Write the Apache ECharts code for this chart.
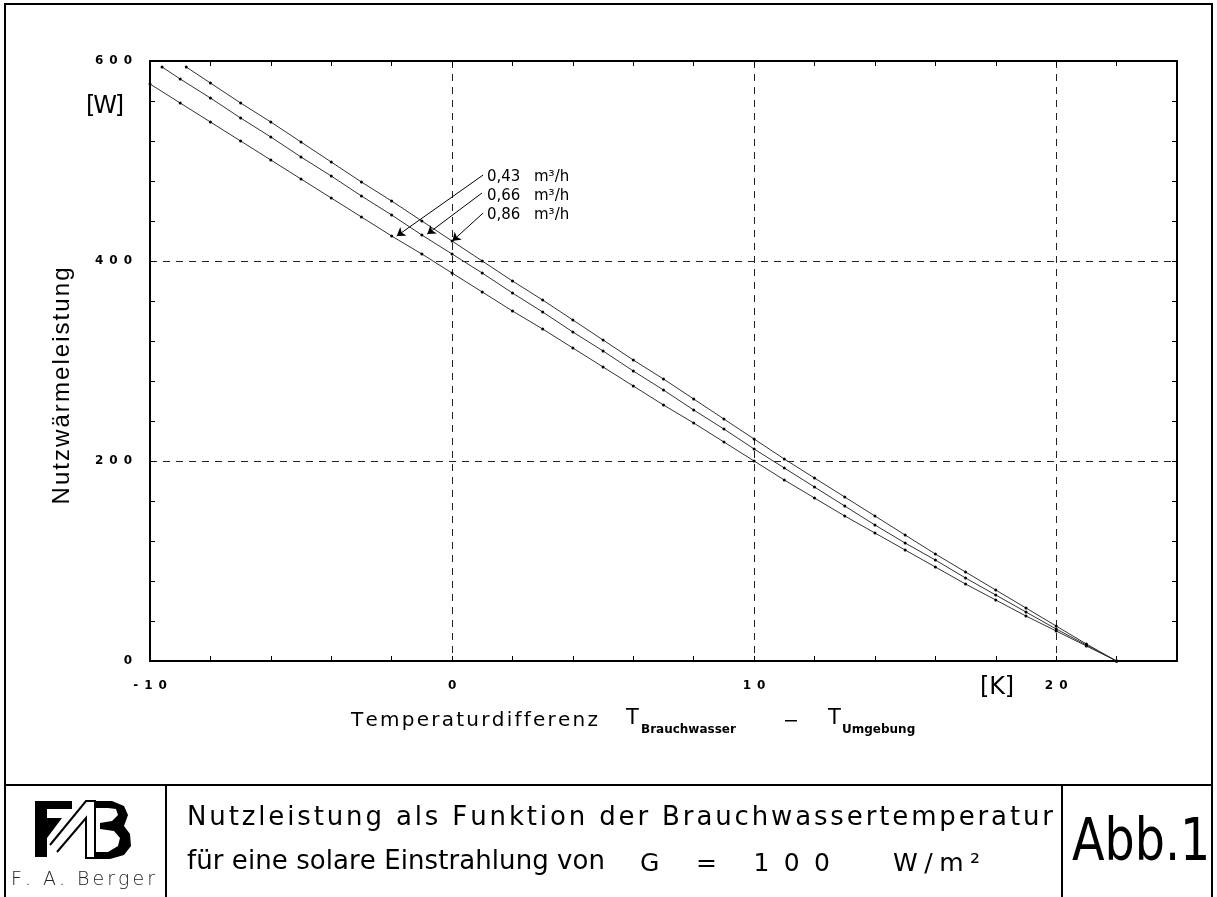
<!DOCTYPE html>
<html><head><meta charset="utf-8">
<script src="https://cdn.jsdelivr.net/npm/echarts@6/dist/echarts.min.js"></script>
<style>html,body{margin:0;padding:0;background:#fff}#c{width:1217px;height:897px}</style>
</head><body><div id="c"></div><script>
// Nutzwärmeleistung [W] vs Temperaturdifferenz [K]
const seriesNames = ['0,43 m³/h', '0,66 m³/h', '0,86 m³/h'];
const x043 = [-10,-9,-8,-7,-6,-5,-4,-3,-2,-1,0,1,2,3,4,5,6,7,8,9,10,11,12,13,14,15,16,17,18,19,20,21,22];
const w043 = [577,558,539,520,501,482,463,444,425,407,388,369,350,332,313,294,275,256,238,219,200,181,163,145,128,111,94,77,61,45,30,15,0];
const x066 = [-9.6,-9,-8,-7,-6,-5,-4,-3,-2,-1,0,1,2,3,4,5,6,7,8,9,10,11,12,13,14,15,16,17,18,19,20,21,22];
const w066 = [594,582,563,543,524,504,485,465,446,426,407,388,368,349,329,310,290,271,251,232,212,193,174,155,136,118,101,83,66,49,32,16,0];
const x086 = [-8.8,-8,-7,-6,-5,-4,-3,-2,-1,0,1,2,3,4,5,6,7,8,9,10,11,12,13,14,15,16,17,18,19,20,21,22];
const w086 = [594,578,558,539,519,499,479,460,440,420,400,380,361,341,321,301,282,262,242,222,202,183,164,145,126,107,89,71,53,35,17,0];
// annotation arrows: [label start, arrow tip] in data units
const arrow043 = [[1.03,486],[-1.83,425]];
const arrow066 = [[0.99,468],[-0.82,427]];
const arrow086 = [[1.03,448],[0.01,420]];
const xTickLabels = {'-10':'-\u20021\u20020','0':'0','10':'1\u20020','20':'2\u20020'};
const yTickLabels = {'0':'0','200':'2\u20020\u20020','400':'4\u20020\u20020','600':'6\u20020\u20020'};

const pairs = (xs, ws) => xs.map((x, i) => [x, ws[i]]);
const chart = echarts.init(document.getElementById('c'), null, {renderer:'canvas'});
const tickFont = {fontFamily:'DejaVu Sans', fontWeight:'bold', fontSize:12, color:'#000'};
const frameLine = {show:true, onZero:false, lineStyle:{color:'#000', width:2}};
const tickIn = {show:true, inside:true, length:5, lineStyle:{color:'#000', width:1}};
const dashed = {show:true, lineStyle:{type:[7,6], color:'#222', width:1}};

// letter-spaced text helper (fits a string to a target width)
const mctx = document.createElement('canvas').getContext('2d');
function spaced(str, cfg){
  const fam = cfg.family || 'DejaVu Sans', wt = cfg.weight || 'normal';
  mctx.font = wt + ' ' + cfg.size + 'px "' + fam + '"';
  const chars = Array.from(str);
  const ws = chars.map(ch => mctx.measureText(ch).width);
  const nat = ws.reduce((a, b) => a + b, 0);
  const sp = cfg.width != null ? (cfg.width - nat) / (chars.length - 1) : (cfg.spacing || 0);
  const total = nat + sp * (chars.length - 1);
  let cx = cfg.align === 'center' ? -total / 2 : 0;
  const children = [];
  chars.forEach((ch, i) => {
    if (ch !== ' ') children.push({type:'text', x:cx, y:0, style:{text:ch, fontFamily:fam, fontWeight:wt,
      fontSize:cfg.size, fill:cfg.fill || '#000', align:'left', verticalAlign:'middle'}});
    cx += ws[i] + sp;
  });
  return {type:'group', x:cfg.x, y:cfg.y, rotation:cfg.rotation || 0, children};
}

function mkSeries(name, xs, ws, arr){
  return {
    name, type:'line', xAxisIndex:0, yAxisIndex:0, data:pairs(xs, ws),
    showSymbol:true, symbol:'circle', symbolSize:3, smooth:false,
    lineStyle:{color:'#333', width:1}, itemStyle:{color:'#000'},
    silent:true, animation:false, z:3,
    markLine:{silent:true, animation:false, symbol:['none','arrow'], symbolSize:8,
      label:{show:false}, lineStyle:{color:'#000', width:1, type:'solid'},
      data:[[{coord:arr[0]},{coord:arr[1]}]]}
  };
}

const font = 'DejaVu Sans';
chart.setOption({
  animation:false,
  backgroundColor:'#fff',
  grid:{left:150, top:61, right:40, bottom:236, containLabel:false},
  xAxis:[
    {type:'value', position:'bottom', min:-10, max:24, interval:2, axisLine:frameLine, axisTick:tickIn,
     axisLabel:Object.assign({formatter:v=>xTickLabels[v]||'', margin:19}, tickFont), splitLine:{show:false}},
    {type:'value', position:'top', min:-10, max:24, interval:2, axisLine:frameLine, axisTick:tickIn,
     axisLabel:{show:false}, splitLine:{show:false}},
    {type:'value', min:-10, max:24, interval:10, axisLine:{show:false}, axisTick:{show:false},
     axisLabel:{show:false}, splitLine:dashed}
  ],
  yAxis:[
    {type:'value', position:'left', min:0, max:600, interval:40, axisLine:frameLine, axisTick:tickIn,
     axisLabel:Object.assign({formatter:v=>yTickLabels[v]||'', margin:18}, tickFont), splitLine:{show:false}},
    {type:'value', position:'right', min:0, max:600, interval:40, axisLine:frameLine, axisTick:tickIn,
     axisLabel:{show:false}, splitLine:{show:false}},
    {type:'value', min:0, max:600, interval:200, axisLine:{show:false}, axisTick:{show:false},
     axisLabel:{show:false}, splitLine:dashed}
  ],
  series:[
    mkSeries(seriesNames[0], x043, w043, arrow043),
    mkSeries(seriesNames[1], x066, w066, arrow066),
    mkSeries(seriesNames[2], x086, w086, arrow086)
  ],
  graphic:[
    {type:'rect', shape:{x:5, y:4, width:1207, height:900}, style:{fill:'none', stroke:'#000', lineWidth:2}, z:10},
    {type:'line', shape:{x1:5, y1:785, x2:1212, y2:785}, style:{stroke:'#000', lineWidth:2}, z:10},
    {type:'line', shape:{x1:166, y1:785, x2:166, y2:897}, style:{stroke:'#000', lineWidth:2}, z:10},
    {type:'line', shape:{x1:1062, y1:785, x2:1062, y2:897}, style:{stroke:'#000', lineWidth:2}, z:10},
    // axis titles
    spaced('Nutzwärmeleistung', {x:62, y:386, size:24, family:'Liberation Sans', width:237, align:'center', rotation:Math.PI/2}),
    spaced('[W]', {x:105, y:107, size:24, width:38, align:'center'}),
    spaced('[K]', {x:997, y:688, size:24, width:34, align:'center'}),
    spaced('Temperaturdifferenz', {x:351, y:721, size:20, width:247}),
    {type:'text', x:626, y:719, style:{text:'T', fontFamily:font, fontSize:21, fill:'#000', align:'left', verticalAlign:'middle'}},
    {type:'text', x:641, y:730, style:{text:'Brauchwasser', fontFamily:font, fontSize:12, fontWeight:'bold', fill:'#000', align:'left', verticalAlign:'middle'}},
    {type:'rect', shape:{x:785, y:720, width:12, height:1.5}, style:{fill:'#000'}},
    {type:'text', x:828, y:719, style:{text:'T', fontFamily:font, fontSize:21, fill:'#000', align:'left', verticalAlign:'middle'}},
    {type:'text', x:842, y:730, style:{text:'Umgebung', fontFamily:font, fontSize:12, fontWeight:'bold', fill:'#000', align:'left', verticalAlign:'middle'}},
    // annotation labels
    {type:'text', x:487, y:177, style:{text:'0,43', fontFamily:font, fontSize:15, fill:'#000', verticalAlign:'middle'}},
    {type:'text', x:534, y:177, style:{text:'m³/h', fontFamily:font, fontSize:15, fill:'#000', verticalAlign:'middle'}},
    {type:'text', x:487, y:196, style:{text:'0,66', fontFamily:font, fontSize:15, fill:'#000', verticalAlign:'middle'}},
    {type:'text', x:534, y:196, style:{text:'m³/h', fontFamily:font, fontSize:15, fill:'#000', verticalAlign:'middle'}},
    {type:'text', x:487, y:215, style:{text:'0,86', fontFamily:font, fontSize:15, fill:'#000', verticalAlign:'middle'}},
    {type:'text', x:534, y:215, style:{text:'m³/h', fontFamily:font, fontSize:15, fill:'#000', verticalAlign:'middle'}},
    // footer
    spaced('Nutzleistung als Funktion der Brauchwassertemperatur', {x:187, y:818, size:26, width:866}),
    spaced('für eine solare Einstrahlung von', {x:187, y:862, size:26, width:418}),
    spaced('G = 100', {x:640, y:864, size:25, width:190}),
    spaced('W/m²', {x:893, y:864, size:25, width:87}),
    {type:'text', x:1072, y:845, scaleX:0.82, style:{text:'Abb.1', fontFamily:font, fontSize:58, fill:'#000', verticalAlign:'middle'}},
    spaced('F. A. Berger', {x:11, y:880, size:19, weight:200, width:144, fill:'#222'}),
    // logo (approximate)
    {type:'polygon', shape:{points:[[35,801],[72,801],[72,809],[47,809],[47,818],[62,818],[47,838],[47,857],[35,857]]}, style:{fill:'#000'}},
    {type:'polyline', shape:{points:[[50,845],[86,801],[95,801],[95,858],[86,858],[86,818],[57,852]]}, style:{stroke:'#000', lineWidth:2, fill:'none'}},
    {type:'polygon', shape:{points:[[95,801],[112,801],[124,806],[128,815],[124,826],[130,834],[131,846],[124,855],[110,859],[95,859],[95,852],[108,852],[118,846],[120,838],[114,831],[100,829],[100,823],[112,821],[118,815],[116,809],[108,808],[95,808]]}, style:{fill:'#000'}}
  ]
});
</script></body></html>
